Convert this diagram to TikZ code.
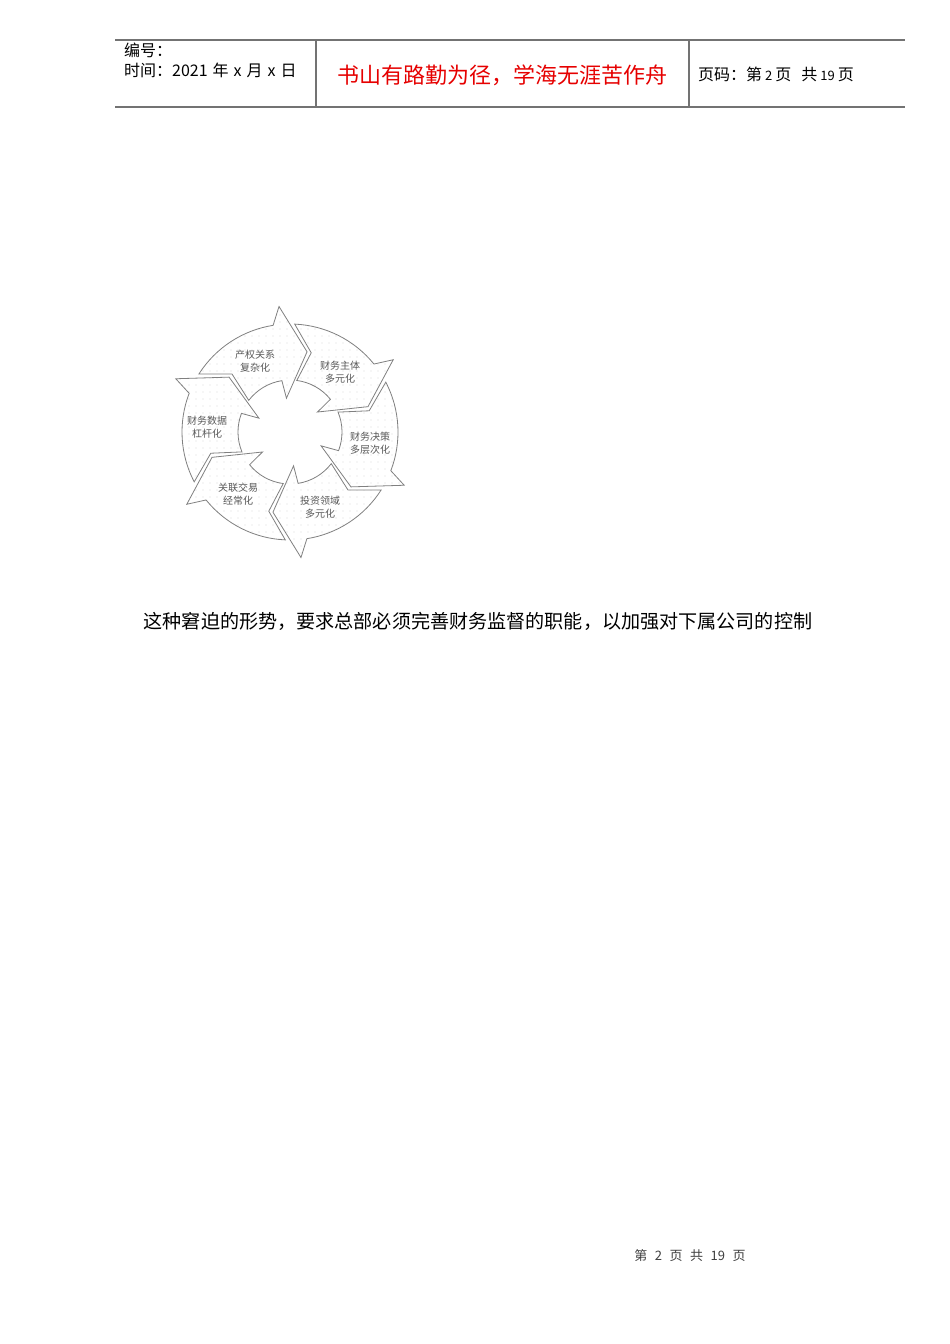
\documentclass[tikz,border=0pt]{standalone}
\usepackage{fontspec}
\setmainfont{Noto Sans CJK SC}
\usetikzlibrary{patterns.meta}
\newcommand{\cyclearrow}[1]{%
  \draw[cyc] (#1+52.5:108) arc[start angle=#1+52.5, end angle=#1+4, radius=108]
    -- (#1:126) -- (#1-17:82) -- (#1+1:34) -- (#1+4:52)
    arc[start angle=#1+4, end angle=#1+47.5, radius=52]
    -- (#1+40:82) -- cycle;
}
\begin{document}
\begin{tikzpicture}[x=1pt,y=1pt,
  hline/.style={draw=black!55, line width=1.1pt},
  hdr/.style={anchor=west, inner sep=0pt, font=\fontsize{16}{18}\selectfont},
  cyc/.style={draw=black!50, line width=0.8pt, pattern={Dots[distance=7pt, radius=0.45pt]}, pattern color=black!40, line join=miter},
  lbl/.style={align=center, inner sep=0pt, text=black!65, font=\fontsize{10}{12.5}\selectfont}]
\useasboundingbox[fill=white] (0,0) rectangle (950,-1344);
% header
\draw[hline] (115,-40) -- (905,-40);
\draw[hline] (115,-107) -- (905,-107);
\draw[hline] (316,-40) -- (316,-107);
\draw[hline] (689,-40) -- (689,-107);
\node[hdr] (bianhao) at (124,-50) {编号：};
\node[hdr] (shijian) at (124,-70) {时间：2021\hspace{5pt}年\hspace{5pt}x\hspace{5pt}月\hspace{5pt}x\hspace{5pt}日};
\node[inner sep=0pt, text={rgb,255:red,230;green,0;blue,0}, font=\fontsize{22}{26}\selectfont] (motto) at (502,-75) {书山有路勤为径，学海无涯苦作舟};
\node[hdr] (yema) at (698,-74) {页码：第\hspace{3pt}{\fontsize{13}{14}\selectfont 2}\hspace{3pt}页\hspace{10pt}共\hspace{3pt}{\fontsize{13}{14}\selectfont 19}\hspace{3pt}页};
% cycle
\begin{scope}[shift={(290,-432)}]
  \cyclearrow{95}
  \cyclearrow{35}
  \cyclearrow{-25}
  \cyclearrow{-85}
  \cyclearrow{-145}
  \cyclearrow{155}
\end{scope}
\node[lbl] (a1) at (255,-361) {产权关系\\复杂化};
\node[lbl] (a2) at (340,-372) {财务主体\\多元化};
\node[lbl] (a3) at (370,-443) {财务决策\\多层次化};
\node[lbl] (a4) at (320,-507) {投资领域\\多元化};
\node[lbl] (a5) at (238,-494) {关联交易\\经常化};
\node[lbl] (a6) at (207,-427) {财务数据\\杠杆化};
% sentence
\node[inner sep=0pt, font=\fontsize{19.1}{22}\selectfont] (sentence) at (478,-621) {这种窘迫的形势，要求总部必须完善财务监督的职能，以加强对下属公司的控制};
% footer
\node[inner sep=0pt, text=black!75, font=\fontsize{13}{16}\selectfont] (footer) at (690,-1256) {第\hspace{7.5pt}2\hspace{7.5pt}页\hspace{7.5pt}共\hspace{7.5pt}19\hspace{7.5pt}页};
\end{tikzpicture}
\end{document}
